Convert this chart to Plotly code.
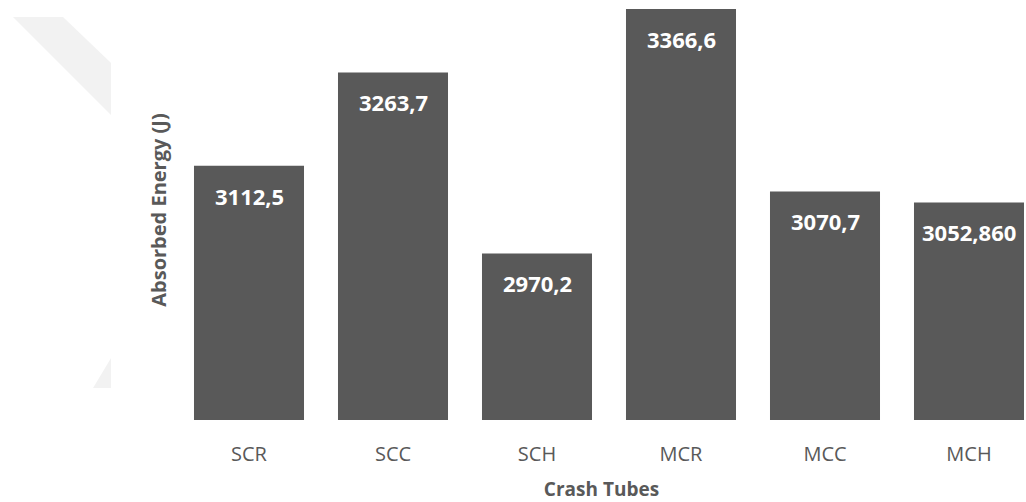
import plotly.graph_objects as go

# Crash tube absorbed energy
tubes = ["SCR", "SCC", "SCH", "MCR", "MCC", "MCH"]
energy = [3112.5, 3263.7, 2970.2, 3366.6, 3070.7, 3052.860]
labels = ["3112,5", "3263,7", "2970,2", "3366,6", "3070,7", "3052,860"]

BAR = "#595959"
W, H = 1026, 502
ML, MB = 177, 82
PLOT_W, PLOT_H = W - ML, H - MB

fig = go.Figure(
    go.Bar(
        x=tubes,
        y=energy,
        marker=dict(color=BAR, line=dict(width=0)),
        hoverinfo="skip",
    )
)

# value labels sit inside the top of each bar
for t, v, s in zip(tubes, energy, labels):
    fig.add_annotation(
        x=t, y=v, text=s, showarrow=False,
        yanchor="middle", yshift=-30,
        font=dict(family="Open Sans", size=22, color="white", weight="bold"),
    )


def px_to_paper(px, py):
    return (px - ML) / PLOT_W, (PLOT_H - py) / PLOT_H


def poly(points):
    pts = [px_to_paper(x, y) for x, y in points]
    return "M " + " L ".join(f"{x:.4f},{y:.4f}" for x, y in pts) + " Z"


# faint background decoration at the left edge
for pts in ([(13, 17), (63, 17), (111, 63), (111, 115)],
            [(111, 358), (111, 388), (93, 388)]):
    fig.add_shape(type="path", path=poly(pts), xref="paper", yref="paper",
                  fillcolor="#f2f2f2", line=dict(width=0), layer="below")

fig.update_layout(
    width=W, height=H,
    margin=dict(l=ML, r=0, t=0, b=MB),
    paper_bgcolor="white", plot_bgcolor="white",
    bargap=0.236,
    showlegend=False,
    font=dict(family="Open Sans", color="#595959"),
    xaxis=dict(
        range=[-0.5, -0.5 + PLOT_W / 144],
        showgrid=False, zeroline=False, showline=False,
        ticks="outside", ticklen=16, tickcolor="rgba(0,0,0,0)",
        tickfont=dict(size=20, color="#595959"),
        title=dict(text="Crash Tubes", standoff=16,
                   font=dict(size=19, color="#595959", weight="bold")),
    ),
    yaxis=dict(
        range=[2700, 2700 + PLOT_H * (3366.6 - 2700) / 411],
        showgrid=False, zeroline=False, showline=False,
        showticklabels=False, ticks="",
        title=dict(text="Absorbed Energy (J)", standoff=4,
                   font=dict(size=20, color="#595959", weight="bold")),
    ),
)

fig.write_html("out.html")
